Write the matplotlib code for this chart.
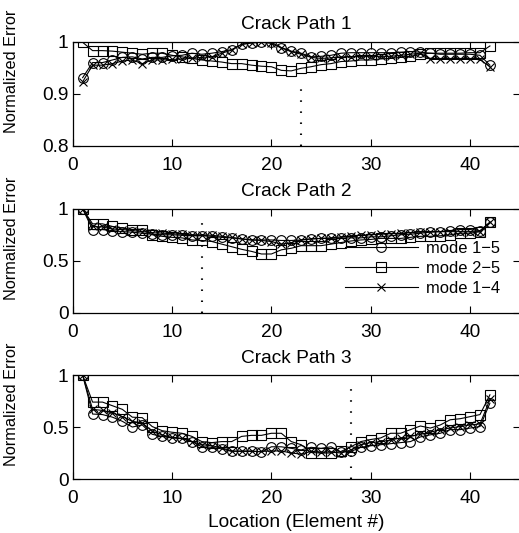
import matplotlib
matplotlib.use("Agg")
import matplotlib.pyplot as plt
import numpy as np

plt.rcParams['font.family'] = ['Liberation Sans', 'DejaVu Sans']

elements = np.arange(1, 43)

# Crack path 1
p1_mode15 = [0.931, 0.960, 0.960, 0.965, 0.970, 0.971, 0.967, 0.970, 0.970, 0.973,
             0.974, 0.978, 0.976, 0.978, 0.981, 0.985, 0.995, 0.998, 0.999, 0.999,
             0.989, 0.982, 0.978, 0.971, 0.972, 0.974, 0.978, 0.979, 0.979, 0.979,
             0.979, 0.979, 0.980, 0.981, 0.980, 0.978, 0.976, 0.976, 0.976, 0.976,
             0.974, 0.955]
p1_mode25 = [0.999, 0.983, 0.983, 0.982, 0.980, 0.978, 0.976, 0.978, 0.978, 0.974,
             0.971, 0.968, 0.965, 0.963, 0.961, 0.958, 0.958, 0.955, 0.953, 0.952,
             0.945, 0.944, 0.949, 0.952, 0.956, 0.958, 0.962, 0.963, 0.965, 0.965,
             0.967, 0.968, 0.970, 0.972, 0.976, 0.978, 0.978, 0.978, 0.978, 0.979,
             0.979, 0.992]
p1_mode14 = [0.923, 0.955, 0.955, 0.958, 0.963, 0.965, 0.958, 0.965, 0.965, 0.966,
             0.967, 0.968, 0.970, 0.971, 0.978, 0.984, 0.995, 0.998, 0.999, 0.997,
             0.988, 0.981, 0.976, 0.970, 0.968, 0.969, 0.971, 0.971, 0.972, 0.972,
             0.972, 0.972, 0.974, 0.976, 0.978, 0.966, 0.966, 0.966, 0.966, 0.966,
             0.966, 0.952]

# Crack path 2
p2_mode15 = [1.00, 0.80, 0.80, 0.79, 0.78, 0.775, 0.765, 0.755, 0.75, 0.75,
             0.745, 0.74, 0.74, 0.735, 0.725, 0.72, 0.71, 0.70, 0.70, 0.70,
             0.695, 0.695, 0.70, 0.71, 0.715, 0.715, 0.72, 0.72, 0.72, 0.73,
             0.73, 0.74, 0.75, 0.755, 0.765, 0.775, 0.78, 0.79, 0.80, 0.80,
             0.79, 0.87]
p2_mode25 = [1.00, 0.855, 0.855, 0.83, 0.815, 0.80, 0.80, 0.75, 0.735, 0.725,
             0.72, 0.70, 0.695, 0.685, 0.66, 0.635, 0.61, 0.59, 0.565, 0.565,
             0.605, 0.62, 0.645, 0.645, 0.645, 0.66, 0.675, 0.69, 0.70, 0.705,
             0.715, 0.715, 0.715, 0.725, 0.735, 0.735, 0.74, 0.75, 0.765, 0.765,
             0.78, 0.87]
p2_mode14 = [1.00, 0.83, 0.825, 0.805, 0.80, 0.79, 0.78, 0.77, 0.765, 0.76,
             0.755, 0.75, 0.75, 0.745, 0.735, 0.725, 0.71, 0.70, 0.695, 0.685,
             0.66, 0.675, 0.70, 0.71, 0.715, 0.72, 0.73, 0.74, 0.745, 0.75,
             0.755, 0.76, 0.765, 0.77, 0.775, 0.78, 0.78, 0.78, 0.78, 0.78,
             0.78, 0.87]

# Crack path 3
p3_mode15 = [1.00, 0.625, 0.62, 0.595, 0.555, 0.50, 0.52, 0.43, 0.41, 0.395,
             0.39, 0.36, 0.31, 0.305, 0.29, 0.265, 0.27, 0.27, 0.26, 0.31,
             0.31, 0.295, 0.28, 0.305, 0.295, 0.31, 0.26, 0.265, 0.305, 0.32,
             0.33, 0.34, 0.35, 0.36, 0.405, 0.425, 0.44, 0.475, 0.475, 0.49,
             0.505, 0.73]
p3_mode25 = [1.00, 0.74, 0.74, 0.705, 0.67, 0.595, 0.59, 0.505, 0.465, 0.45,
             0.44, 0.41, 0.36, 0.35, 0.36, 0.36, 0.41, 0.42, 0.42, 0.44,
             0.44, 0.36, 0.33, 0.255, 0.25, 0.25, 0.265, 0.31, 0.36, 0.38,
             0.395, 0.44, 0.44, 0.475, 0.51, 0.49, 0.52, 0.57, 0.58, 0.60,
             0.62, 0.81]
p3_mode14 = [1.00, 0.67, 0.66, 0.635, 0.60, 0.555, 0.54, 0.46, 0.425, 0.40,
             0.39, 0.36, 0.33, 0.32, 0.30, 0.27, 0.265, 0.265, 0.265, 0.27,
             0.27, 0.25, 0.24, 0.265, 0.26, 0.26, 0.25, 0.28, 0.33, 0.35,
             0.36, 0.375, 0.395, 0.41, 0.43, 0.45, 0.475, 0.49, 0.505, 0.52,
             0.53, 0.765]

titles = ["Crack Path 1", "Crack Path 2", "Crack Path 3"]
crack_location = [23, 13, 28]
crack_marker_top = [0.926, 0.94, 0.95]
ylims = [(0.8, 1.0), (0.0, 1.0), (0.0, 1.0)]
yticks = [[0.8, 0.9, 1.0], [0.0, 0.5, 1.0], [0.0, 0.5, 1.0]]
yticklabels = [["0.8", "0.9", "1"], ["0", "0.5", "1"], ["0", "0.5", "1"]]
xticks = [0, 10, 20, 30, 40]
legend_labels = ["mode 1\u22125", "mode 2\u22125", "mode 1\u22124"]

series = [
    (p1_mode15, p1_mode25, p1_mode14),
    (p2_mode15, p2_mode25, p2_mode14),
    (p3_mode15, p3_mode25, p3_mode14),
]

fig = plt.figure(figsize=(5.19, 5.33), dpi=100)
left, width, height = 0.1401, 0.8613, 0.195
bottoms = [0.7266, 0.4133, 0.1013]

fs = 13.8
for i in range(3):
    ax = fig.add_axes([left, bottoms[i], width, height])
    m15, m25, m14 = series[i]
    l1, = ax.plot(elements, m15, color='black', lw=0.8, marker='o', ms=7,
                  mfc='none', mec='black', mew=0.8)
    l2, = ax.plot(elements, m25, color='black', lw=0.8, marker='s', ms=6.5,
                  mfc='none', mec='black', mew=0.8)
    l3, = ax.plot(elements, m14, color='black', lw=0.8, marker='x', ms=6,
                  mfc='none', mec='black', mew=0.8)
    ax.plot([crack_location[i], crack_location[i]],
            [ylims[i][0], crack_marker_top[i]],
            color='black', lw=1.5, linestyle=(0, (0.7, 4.6)))
    ax.set_xlim(0, 45)
    ax.set_ylim(*ylims[i])
    ax.set_xticks(xticks)
    ax.set_xticklabels([str(t) for t in xticks], fontsize=fs)
    ax.set_yticks(yticks[i])
    ax.set_yticklabels(yticklabels[i], fontsize=fs)
    ax.tick_params(direction='in', length=5, width=0.8, top=True, right=True)
    ax.tick_params(axis='x', pad=8)
    ax.tick_params(axis='y', pad=3)
    for s in ax.spines.values():
        s.set_linewidth(0.9)
    ax.set_title(titles[i], fontsize=fs, pad=9)
    ax.set_ylabel("Normalized Error", fontsize=11.7)
    ax.yaxis.set_label_coords(-0.12, 0.72)
    if i == 1:
        ax.legend([l1, l2, l3], legend_labels, loc='upper left',
                  bbox_to_anchor=(0.609, 0.69), frameon=False, fontsize=11.9,
                  handlelength=4.4, handletextpad=0.5, labelspacing=0.3,
                  borderpad=0, borderaxespad=0)
    if i == 2:
        ax.set_xlabel("Location (Element #)", fontsize=fs, labelpad=5)

fig.savefig("out.png", dpi=100)
